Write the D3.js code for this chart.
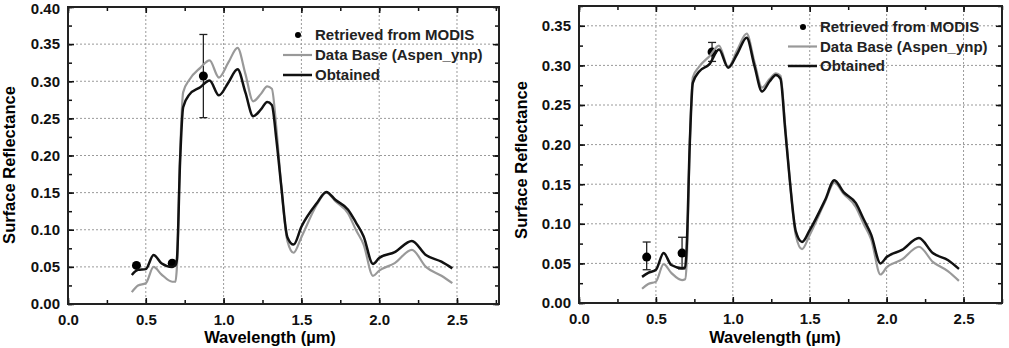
<!DOCTYPE html>
<html>
<head>
<meta charset="utf-8">
<script src="https://cdn.jsdelivr.net/npm/d3@7"></script>
<style>
body{margin:0;background:#fff;}
svg{display:block;font-family:"Liberation Sans",Arial,sans-serif;}
.tick-label{font-size:15px;font-weight:bold;}
.axis-title{font-size:16.5px;font-weight:bold;}
.legend text{font-size:15px;font-weight:bold;}
.grid{stroke:#9a9a9a;stroke-width:1;stroke-dasharray:2,2;}
</style>
</head>
<body>
<div id="wrapper"></div>
<script>
// Data
const wavelength=[0.41,0.45,0.5,0.55,0.6,0.67,0.69,0.70,0.72,0.74,0.78,0.85,0.91,0.97,1.03,1.09,1.14,1.19,1.24,1.28,1.31,1.34,1.37,1.41,1.45,1.5,1.6,1.66,1.72,1.8,1.85,1.9,1.96,2.0,2.1,2.21,2.3,2.4,2.47];

const leftObtained=[0.039,0.046,0.047,0.066,0.055,0.05,0.052,0.06,0.19,0.265,0.282,0.292,0.301,0.281,0.298,0.316,0.285,0.253,0.262,0.272,0.268,0.22,0.16,0.09,0.08,0.104,0.136,0.151,0.14,0.127,0.11,0.091,0.054,0.062,0.07,0.085,0.066,0.057,0.048];
const leftDataBase=[0.016,0.025,0.028,0.05,0.04,0.03,0.03,0.05,0.2,0.285,0.302,0.318,0.328,0.305,0.325,0.345,0.31,0.273,0.283,0.293,0.29,0.235,0.16,0.085,0.069,0.09,0.134,0.15,0.138,0.122,0.1,0.08,0.038,0.045,0.055,0.073,0.05,0.038,0.028];
const leftModisX=[0.44,0.67,0.87];
const leftModisY=[0.052,0.055,0.307];
const leftModisLow=[null,null,0.251];
const leftModisHigh=[null,null,0.363];

const rightObtained=[0.033,0.038,0.042,0.063,0.048,0.044,0.045,0.07,0.2,0.278,0.292,0.302,0.32,0.297,0.315,0.335,0.3,0.267,0.28,0.288,0.283,0.22,0.156,0.09,0.077,0.092,0.13,0.155,0.14,0.126,0.106,0.086,0.05,0.058,0.067,0.082,0.063,0.054,0.043];
const rightDataBase=[0.018,0.024,0.027,0.049,0.038,0.029,0.03,0.05,0.2,0.285,0.298,0.312,0.325,0.298,0.32,0.34,0.305,0.272,0.283,0.29,0.287,0.225,0.156,0.085,0.068,0.086,0.128,0.152,0.138,0.121,0.1,0.08,0.036,0.045,0.055,0.071,0.052,0.04,0.028];
const rightModisX=[0.44,0.67,0.865];
const rightModisY=[0.058,0.063,0.317];
const rightModisLow=[0.042,0.043,0.305];
const rightModisHigh=[0.077,0.083,0.329];

const xTicks=[0,0.5,1.0,1.5,2.0,2.5];
const leftYTicks=[0,0.05,0.1,0.15,0.2,0.25,0.3,0.35,0.4];
const rightYTicks=[0,0.05,0.1,0.15,0.2,0.25,0.3,0.35];
const legendLabels=['Retrieved from MODIS','Data Base (Aspen_ynp)','Obtained'];

// Canvas
const svg=d3.select('#wrapper').append('svg').attr('width',1009).attr('height',348);

const drawPanel=(p)=>{
    const xScale=d3.scaleLinear().domain([0,p.xMax]).range([p.left,p.right]);
    const yScale=d3.scaleLinear().domain([0,p.yMax]).range([p.bottom,p.top]);
    const g=svg.append('g');

    // grid
    g.selectAll('.gx').data(xTicks.filter(d=>d>0)).enter().append('line').attr('class','grid')
        .attr('x1',d=>xScale(d)).attr('x2',d=>xScale(d)).attr('y1',p.top).attr('y2',p.bottom);
    g.selectAll('.gy').data(p.yTicks.filter(d=>d>0 && yScale(d)>p.top+1)).enter().append('line').attr('class','grid')
        .attr('y1',d=>yScale(d)).attr('y2',d=>yScale(d)).attr('x1',p.left).attr('x2',p.right);

    // axes (ticks inward, mirrored)
    const minorX=d3.range(0,p.xMax+0.001,0.25);
    const minorY=d3.range(0,p.yMax+0.0001,0.025);
    const fmt=d3.format('.2f');
    g.append('g').attr('transform',`translate(0,${p.bottom})`)
        .call(d3.axisBottom(xScale).tickValues(minorX).tickSize(-4).tickFormat(''));
    g.append('g').attr('transform',`translate(0,${p.bottom})`)
        .call(d3.axisBottom(xScale).tickValues(xTicks).tickSize(-6).tickPadding(10).tickFormat(d3.format('.1f')));
    g.append('g').attr('transform',`translate(0,${p.top})`)
        .call(d3.axisTop(xScale).tickValues(minorX).tickSize(-4).tickFormat(''));
    g.append('g').attr('transform',`translate(0,${p.top})`)
        .call(d3.axisTop(xScale).tickValues(xTicks).tickSize(-6).tickFormat(''));
    g.append('g').attr('transform',`translate(${p.left},0)`)
        .call(d3.axisLeft(yScale).tickValues(minorY).tickSize(-4).tickFormat(''));
    const yAxis=g.append('g').attr('transform',`translate(${p.left},0)`)
        .call(d3.axisLeft(yScale).tickValues(p.yTicks).tickSize(-6).tickPadding(8).tickFormat(fmt));
    g.append('g').attr('transform',`translate(${p.right},0)`)
        .call(d3.axisRight(yScale).tickValues(minorY).tickSize(-4).tickFormat(''));
    g.append('g').attr('transform',`translate(${p.right},0)`)
        .call(d3.axisRight(yScale).tickValues(p.yTicks).tickSize(-6).tickFormat(''));
    g.selectAll('.domain').remove();
    g.selectAll('.tick line').attr('stroke','#111').attr('stroke-width',1.5);
    g.selectAll('.tick text').attr('class','tick-label').attr('fill','#111');
    // keep the top label inside the picture
    yAxis.selectAll('.tick text').filter(d=>yScale(d)<10).attr('dy','0.36em').attr('y',1);

    g.append('rect').attr('x',p.left).attr('y',p.top)
        .attr('width',p.right-p.left).attr('height',p.bottom-p.top)
        .attr('fill','none').attr('stroke','#222').attr('stroke-width',2);

    // MODIS points with error bars (under the curves)
    const pts=p.modisX.map((x,i)=>({x,y:p.modisY[i],lo:p.modisLow[i],hi:p.modisHigh[i]}));
    const bars=pts.filter(d=>d.lo!==null);
    g.selectAll('.eb').data(bars).enter().append('line')
        .attr('x1',d=>xScale(d.x)).attr('x2',d=>xScale(d.x))
        .attr('y1',d=>yScale(d.lo)).attr('y2',d=>yScale(d.hi))
        .attr('stroke','#222').attr('stroke-width',1.3);
    ['lo','hi'].forEach(k=>{
        g.selectAll('.cap'+k).data(bars).enter().append('line')
            .attr('x1',d=>xScale(d.x)-4).attr('x2',d=>xScale(d.x)+4)
            .attr('y1',d=>yScale(d[k])).attr('y2',d=>yScale(d[k]))
            .attr('stroke','#222').attr('stroke-width',1.3);
    });
    g.selectAll('.pt').data(pts).enter().append('circle')
        .attr('cx',d=>xScale(d.x)).attr('cy',d=>yScale(d.y)).attr('r',4.5).attr('fill','#000');

    // lines
    const line=d3.line().x((d,i)=>xScale(wavelength[i])).y(d=>yScale(d)).curve(d3.curveMonotoneX);
    g.append('path').datum(p.dataBase).attr('d',line)
        .attr('fill','none').attr('stroke','#999').attr('stroke-width',2.2);
    g.append('path').datum(p.obtained).attr('d',line)
        .attr('fill','none').attr('stroke','#111').attr('stroke-width',2.5);

    // axis titles
    g.append('text').attr('class','axis-title').attr('text-anchor','middle')
        .attr('x',p.xTitleX).attr('y',343).text('Wavelength (µm)');
    g.append('text').attr('class','axis-title').attr('text-anchor','middle')
        .attr('transform',`translate(${p.yTitleX},${p.yTitleY}) rotate(-90)`).text('Surface Reflectance');

    // legend
    const lg=g.append('g').attr('class','legend');
    legendLabels.forEach((t,i)=>{
        const y=p.legY+i*p.legDy;
        lg.append('text').attr('x',p.legX).attr('y',y+5).text(t).attr('fill','#222');
        if(i===0){
            lg.append('circle').attr('cx',p.legX-17).attr('cy',y).attr('r',3).attr('fill','#000');
        }else{
            lg.append('line').attr('x1',p.legX-32).attr('x2',p.legX-3).attr('y1',y).attr('y2',y)
                .attr('stroke',i===1?'#999':'#111').attr('stroke-width',i===1?2.2:2.5);
        }
    });
};

drawPanel({left:68,right:499,top:7,bottom:304,xMax:2.77,yMax:0.40,yTicks:leftYTicks,
    obtained:leftObtained,dataBase:leftDataBase,modisX:leftModisX,modisY:leftModisY,modisLow:leftModisLow,modisHigh:leftModisHigh,
    xTitleX:270,yTitleX:15,yTitleY:165,legX:315,legY:35,legDy:20});
drawPanel({left:579,right:1002,top:6,bottom:303,xMax:2.75,yMax:0.375,yTicks:rightYTicks,
    obtained:rightObtained,dataBase:rightDataBase,modisX:rightModisX,modisY:rightModisY,modisLow:rightModisLow,modisHigh:rightModisHigh,
    xTitleX:775,yTitleX:527,yTitleY:160,legX:820,legY:27,legDy:19.5});
</script>
</body>
</html>
